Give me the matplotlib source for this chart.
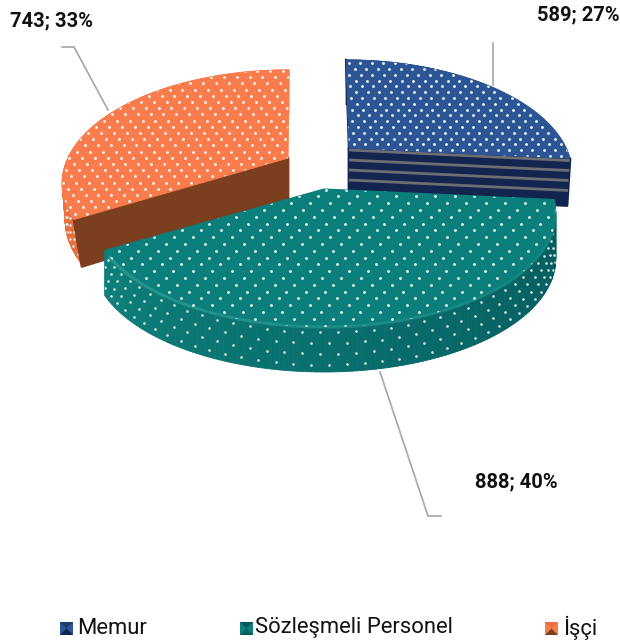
import matplotlib
matplotlib.use("Agg")
import matplotlib.pyplot as plt
from matplotlib.patches import Polygon, Rectangle
import numpy as np

categories = ["Memur", "Sözleşmeli Personel", "İşçi"]
values = [589, 888, 743]
percents = [27, 40, 33]

top_colors = ["#2b5595", "#0a7f7b", "#fa7b4c"]
wall_light = ["#2b5595", "#0c7f7b", "#f4773f"]
wall_dark = ["#1c3a6b", "#04585a", "#e86f3f"]
face_colors = ["#13244e", "#055f5c", "#7b3f20"]
apexes = [(349, 148), (324, 189), (288, 158)]
scales_x = [217, 226, 220]
shears = [-3, 0, 1]
face_inset = [-3, 0, 8]
dot_dx = [11.5, 19.5, 12.8]
dot_dy = [5.8, 6.8, 6.2]
dot_skew = [0.06, 0.28, -0.25]

k = 0.221
scale_y = 107.5
depth = 45

plt.rcParams["font.family"] = ["Roboto", "DejaVu Sans"]
fig = plt.figure(figsize=(6.2, 6.44), dpi=100)
ax = fig.add_axes([0, 0, 1, 1])
ax.set_xlim(0, 620)
ax.set_ylim(644, 0)
ax.axis("off")


def project(i, theta):
    px, py = apexes[i]
    x = np.sin(theta)
    y = np.cos(theta)
    w = 1 + k * y
    return px + scales_x[i] * x / w + shears[i] * y, py - scale_y * y / w


def lerp_color(a, b, t):
    a = np.array(matplotlib.colors.to_rgb(a))
    b = np.array(matplotlib.colors.to_rgb(b))
    return a + (b - a) * t


def draw_dots(i, poly, zorder):
    xs, ys = [], []
    rows = np.arange(40, 400, dot_dy[i])
    for n, yy in enumerate(rows):
        off = dot_dx[i] / 2 if n % 2 else 0
        cols = np.arange(0, 640, dot_dx[i]) + off + yy * dot_skew[i]
        xs.extend(cols)
        ys.extend([yy] * len(cols))
    dots = ax.scatter(xs, ys, s=4.2, c="#eef6f2", linewidths=0, zorder=zorder)
    dots.set_clip_path(poly)


def draw_slice(i, start, end, zorder):
    th = np.linspace(start, end, 160)
    xs, ys = project(i, th)
    px, py = apexes[i]
    cut = end if i == 0 else start

    # the base pulls in a little near the cut face, only on the front half
    def inset(t):
        return face_inset[i] * np.clip(-np.cos(t) / abs(np.cos(cut)), 0, 1)

    bx = xs + inset(th)

    # outer wall, drawn as strips so the shade can change along it
    for j in range(len(th) - 1):
        t = j / (len(th) - 2)
        c = lerp_color(wall_dark[i], wall_light[i], t)
        quad = [(xs[j], ys[j]), (xs[j + 1], ys[j + 1]),
                (bx[j + 1], ys[j + 1] + depth), (bx[j], ys[j] + depth)]
        ax.add_patch(Polygon(quad, closed=True, fc=c, ec=c, lw=0.6, zorder=zorder))

    # dots on the wall
    wx, wy = [], []
    thw = np.arange(start, end, 0.062)
    for n, frac in enumerate([0.12, 0.36, 0.6, 0.84]):
        tt = thw + (0.031 if n % 2 else 0)
        ax_, ay_ = project(i, tt)
        wx.extend(ax_ + inset(tt) * frac)
        wy.extend(ay_ + depth * frac)
    wall = Polygon(np.r_[np.c_[xs, ys], np.c_[bx, ys + depth][::-1]], closed=True, fc="none", ec="none", zorder=zorder)
    ax.add_patch(wall)
    wd = ax.scatter(wx, wy, s=3.6, c="#d5e8e2", linewidths=0, zorder=zorder + 0.1)
    wd.set_clip_path(wall)

    # flat cut face of the slice
    if i == 0 or i == 2:
        ex, ey = project(i, cut)
        corners = [(px, py), (ex, ey), (ex + face_inset[i], ey + depth + 2), (px, py + depth)]
        ax.add_patch(Polygon(corners, closed=True, fc=face_colors[i], ec=face_colors[i], lw=2,
                             joinstyle="round", zorder=zorder + 0.2))
    if i == 0:
        face = Polygon(corners, closed=True, fc="none", ec="none", zorder=zorder)
        ax.add_patch(face)
        for off in [2, 12, 22, 32]:
            ln, = ax.plot([px, ex], [py + off, ey + off], color="#6d6e72", lw=2.0, zorder=zorder + 0.3)
            ln.set_clip_path(face)
        tx, ty = project(i, start)
        ax.plot([tx, px], [ty, py + 2], color="#101c3c", lw=1.6, zorder=zorder + 0.1)

    # top of the slice
    top = Polygon(np.r_[[(px, py)], np.c_[xs, ys]], closed=True, fc=top_colors[i], ec=top_colors[i], lw=0.8, zorder=zorder + 0.4)
    ax.add_patch(top)
    draw_dots(i, top, zorder + 0.5)

    # light rim on the green front edge, fading toward the right
    if i == 1:
        for j in range(0, len(th) - 4, 4):
            ax.plot(xs[j:j + 5], ys[j:j + 5], color="#35a39c", lw=2.2, alpha=0.1 + 0.6 * j / len(th),
                    zorder=zorder + 0.45, solid_capstyle="butt")


total = sum(values)
cum = np.cumsum([0] + values) / total * 2 * np.pi

# back slices first, the green one overlaps both
for i, z in [(2, 2), (0, 3), (1, 4)]:
    draw_slice(i, cum[i], cum[i + 1], z)

# leader lines
leader = "#a6a6a6"
ax.plot([493, 493], [43, 85], color=leader, lw=1.2, zorder=1)
ax.plot([62, 74, 108], [47, 47, 110], color=leader, lw=1.2, zorder=1)
ax.plot([380, 428, 441], [372, 516, 516], color=leader, lw=1.2, zorder=1)

label_pos = [(578, 15), (516, 482), (51, 21)]
for i in range(3):
    ax.text(label_pos[i][0], label_pos[i][1], f"{values[i]}; {percents[i]}%", fontsize=14.5, fontweight="bold",
            color="#111111", ha="center", va="center")

# legend
marker_x = [60, 240, 545]
text_x = [77, 255, 563]
for i in range(3):
    mx = marker_x[i]
    ax.add_patch(Rectangle((mx, 622), 13, 13, fc=top_colors[i], ec="none"))
    ax.add_patch(Polygon([(mx, 622), (mx + 13, 622), (mx + 6.5, 628.5)], closed=True, fc=wall_dark[i], ec="none"))
    ax.add_patch(Polygon([(mx, 635), (mx + 13, 635), (mx + 6.5, 628.5)], closed=True, fc=face_colors[i], ec="none"))
    ax.text(text_x[i], 628, categories[i], fontsize=15.8, color="#111111", ha="left", va="center")

fig.savefig("out.png", dpi=100)
